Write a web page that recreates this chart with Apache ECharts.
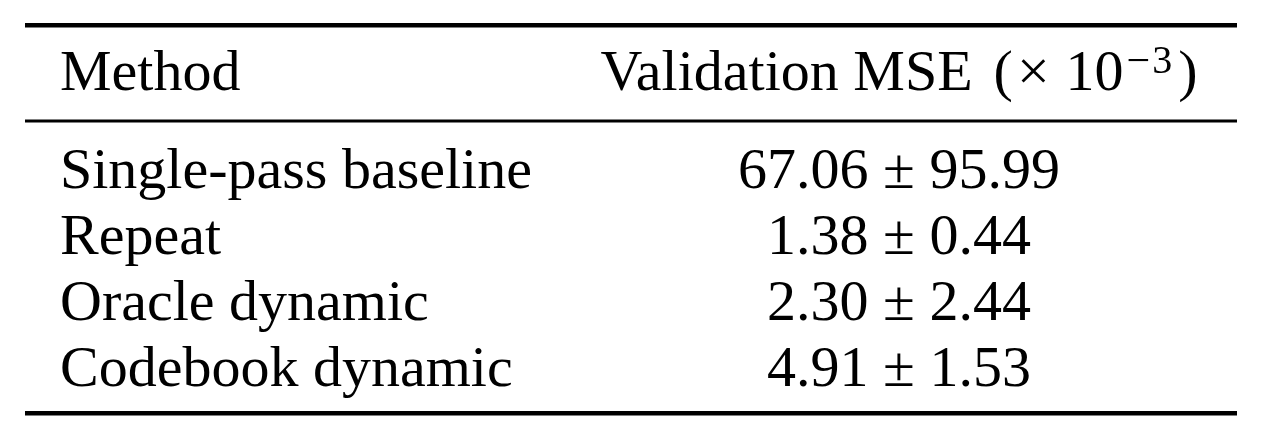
<!DOCTYPE html>
<html>
<head>
<meta charset="utf-8">
<script src="https://cdn.jsdelivr.net/npm/echarts@6/dist/echarts.min.js"></script>
<style>
  html, body { margin: 0; padding: 0; background: #ffffff; }
  #chart { width: 1262px; height: 442px; }
</style>
</head>
<body>
<div id="chart"></div>
<script>
// ---- data ----
var methods = ['Single-pass baseline', 'Repeat', 'Oracle dynamic', 'Codebook dynamic'];
var mseMean = [67.06, 1.38, 2.30, 4.91];
var mseStd  = [95.99, 0.44, 2.44, 1.53];
var headerMethod = 'Method';
var headerValue = 'Validation MSE';
var headerScale = '10';
var headerExp = '3';

// ---- style / layout ----
var FONT = '"Liberation Serif", "Times New Roman", serif';
var FS = 58;
var COL1_X = 60;
var COL2_X = 899;
var RULE_X0 = 25, RULE_X1 = 1237;

var chart = echarts.init(document.getElementById('chart'), null, { renderer: 'canvas' });

var seriesData = methods.map(function (m, i) { return [0, i]; });

var base = { fontFamily: FONT, fontSize: FS, fill: '#000', lineHeight: 66 };
function tok(extra) { return Object.assign({}, base, extra); }

chart.setOption({
  backgroundColor: '#ffffff',
  animation: false,
  grid: { left: 0, right: 0, top: 140, bottom: 38 },
  xAxis: { type: 'value', min: 0, max: 1, show: false },
  yAxis: { type: 'category', data: methods, inverse: true, show: false },
  graphic: [
    { type: 'rect', shape: { x: RULE_X0, y: 23, width: RULE_X1 - RULE_X0, height: 4.5 }, style: { fill: '#000' } },
    { type: 'rect', shape: { x: RULE_X0, y: 119.5, width: RULE_X1 - RULE_X0, height: 3 }, style: { fill: '#000' } },
    { type: 'rect', shape: { x: RULE_X0, y: 411, width: RULE_X1 - RULE_X0, height: 4.5 }, style: { fill: '#000' } },
    { type: 'text', x: COL1_X, y: 75, style: { text: headerMethod, fontFamily: FONT, fontSize: FS, fill: '#000', align: 'left', verticalAlign: 'middle' } },
    { type: 'text', x: COL2_X, y: 75, style: {
        text: '{m|' + headerValue + '}{p|(}{x|×}{m|' + headerScale + '}{mi|−}{s|' + headerExp + '}{c|)}',
        align: 'center', verticalAlign: 'middle',
        rich: {
          m: tok({}),
          p: tok({ padding: [0, 0, 0, 21] }),
          x: tok({ padding: [0, 16, 0, 4] }),
          mi: tok({ fontSize: 42, verticalAlign: 'top', padding: [0, 2, 0, 3] }),
          s: tok({ fontSize: 40, verticalAlign: 'top' }),
          c: tok({ padding: [0, 0, 0, 6] })
        }
      } }
  ],
  series: [{
    type: 'custom',
    data: seriesData,
    silent: true,
    renderItem: function (params, api) {
      var i = api.value(1);
      var pt = api.coord([0, i]);
      return {
        type: 'group',
        children: [
          { type: 'text', x: COL1_X, y: pt[1], style: { text: methods[i], fontFamily: FONT, fontSize: FS, fill: '#000', align: 'left', verticalAlign: 'middle' } },
          { type: 'text', x: COL2_X, y: pt[1], style: { text: mseMean[i].toFixed(2) + ' ± ' + mseStd[i].toFixed(2), fontFamily: FONT, fontSize: FS, fill: '#000', align: 'center', verticalAlign: 'middle' } }
        ]
      };
    }
  }]
});
</script>
</body>
</html>
